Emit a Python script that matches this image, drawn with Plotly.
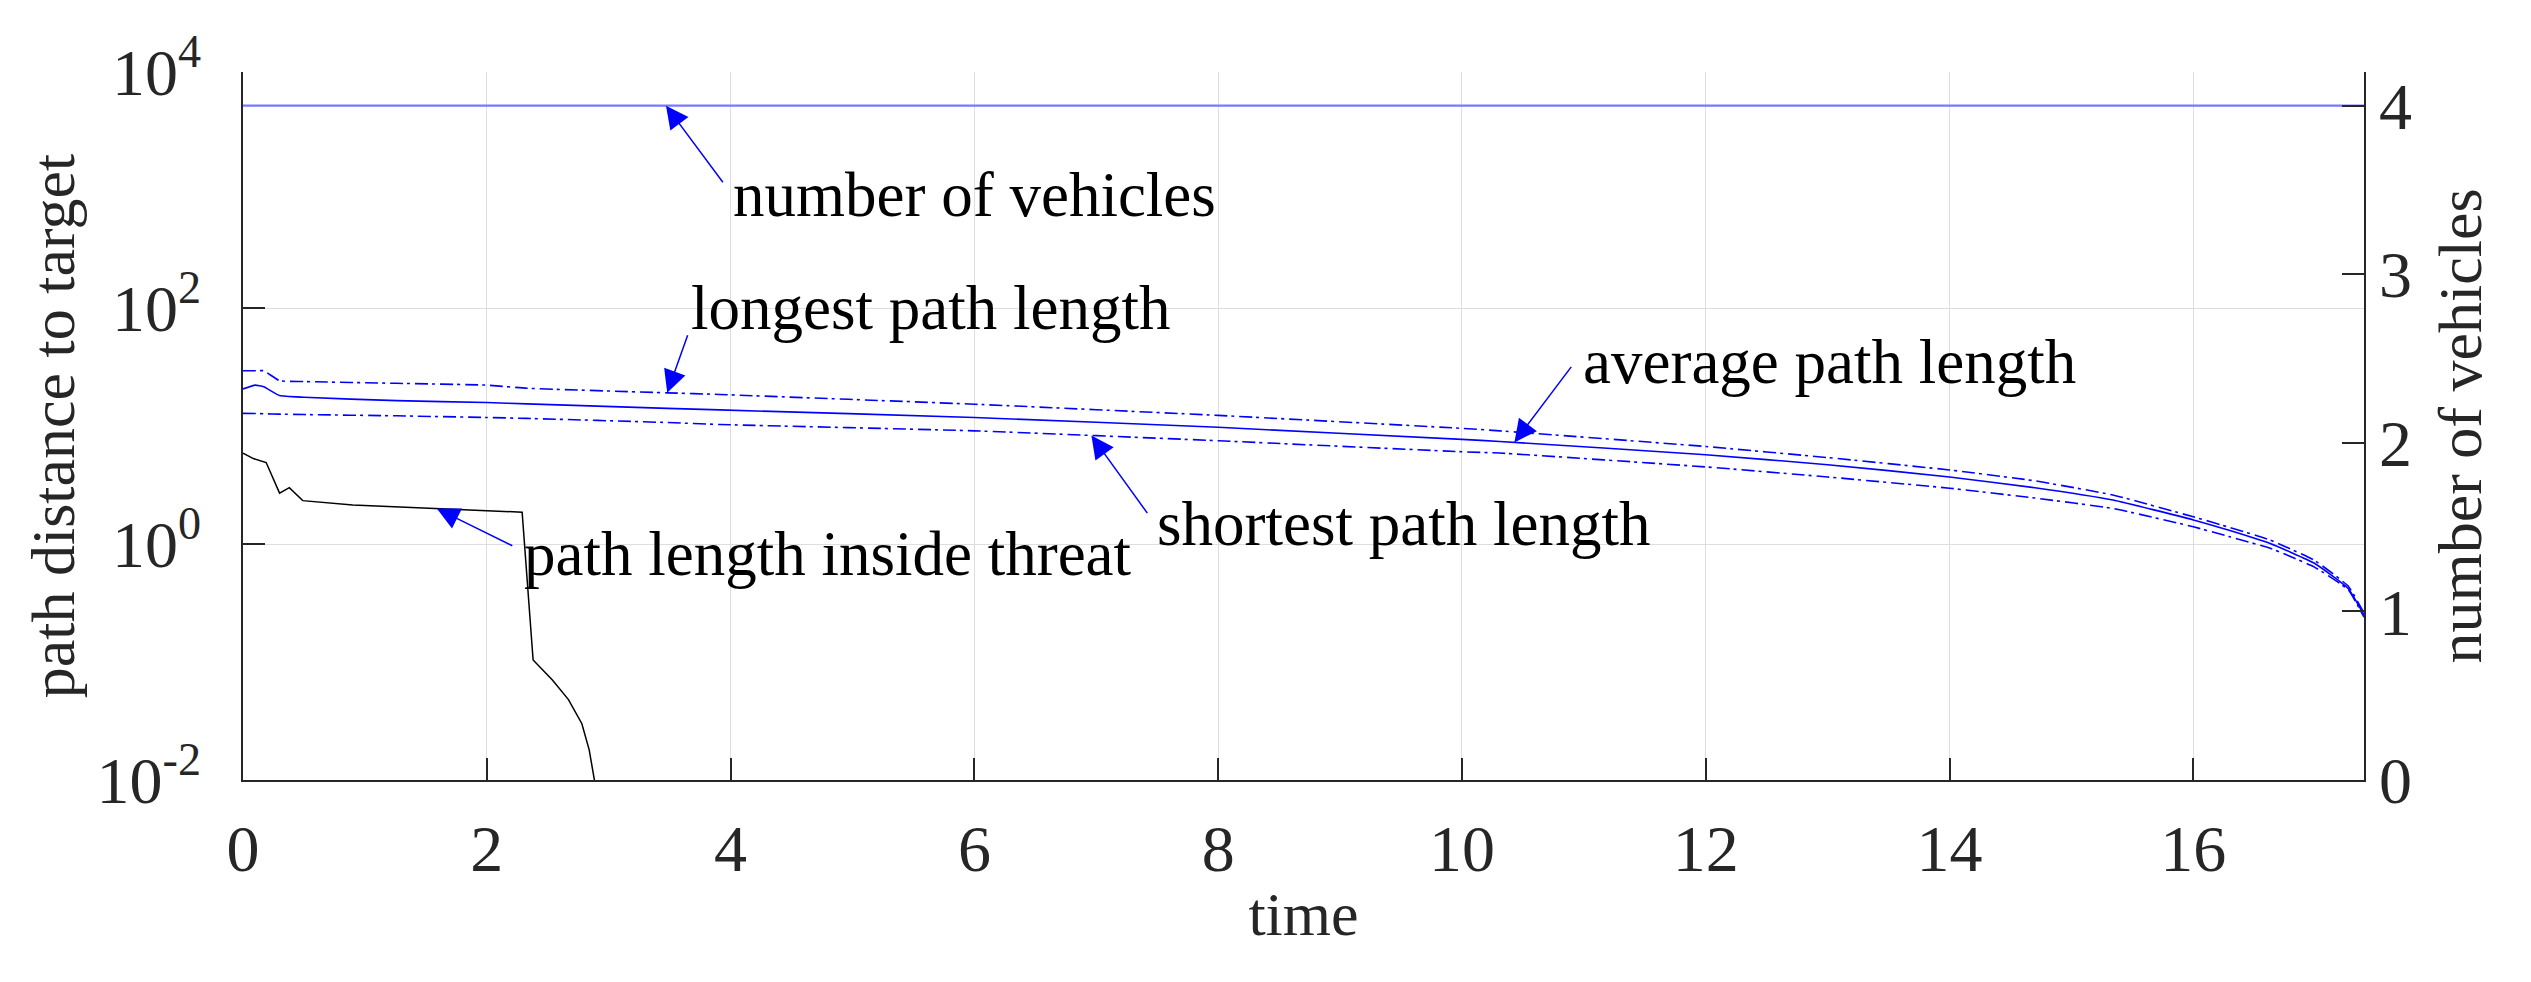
import numpy as np
import plotly.graph_objects as go

# ---------------- data ----------------
time_path = [0, 0.1, 0.17, 0.3, 0.5, 1.26, 2.0, 2.33, 3.48, 3.91, 6, 8, 10, 10.31,
             12, 13, 14, 14.7, 15.34, 16, 16.3, 16.63, 16.99, 17.27, 17.4]
longest_len = [29.4, 29.4, 29.4, 24.2, 23.8, 23.0, 22.2, 20.9, 19.1, 18.5, 15.3, 12.3, 9.55, 9.1,
               6.7, 5.4, 4.24, 3.43, 2.6, 1.7, 1.38, 1.08, 0.73, 0.44, 0.26]
average_len = [20.6, 22.2, 21.5, 18.1, 17.5, 16.4, 15.8, 15.4, 14.1, 13.7, 11.8, 9.75, 7.7, 7.4,
               5.7, 4.7, 3.7, 3.0, 2.36, 1.6, 1.3, 1.01, 0.69, 0.42, 0.25]
shortest_len = [12.8, 12.75, 12.7, 12.6, 12.5, 12.2, 11.8, 11.6, 10.7, 10.3, 9.1, 7.5, 6.05, 5.9,
                4.5, 3.7, 2.97, 2.45, 2.0, 1.4, 1.15, 0.92, 0.64, 0.41, 0.24]

time_threat = [0, 0.085, 0.19, 0.30, 0.38, 0.49, 0.90, 1.58, 2.29, 2.38, 2.54, 2.67, 2.78, 2.84, 2.88, 2.92]
threat_len = [5.9, 5.3, 4.9, 2.7, 3.0, 2.33, 2.14, 2.0, 1.86, 0.104, 0.070, 0.048, 0.030, 0.018, 0.010, 0.006]

time_vehicles = [0, 17.4]
num_vehicles = [4, 4]

x_ticks = [0, 2, 4, 6, 8, 10, 12, 14, 16]
y_ticks = [0.01, 1, 100, 10000]
y_ticktext = ["10<sup>-2</sup>", "10<sup>0</sup>", "10<sup>2</sup>", "10<sup>4</sup>"]
y2_ticks = [0, 1, 2, 3, 4]

# annotation anchors (time where arrow head touches)
ann_vehicles_t = 3.47
ann_longest_t = 3.48
ann_average_t = 10.43
ann_shortest_t = 6.96
ann_threat_t = 1.59

FONT = "Liberation Serif"
BLUE = "rgb(0,0,255)"
AX = "#262626"
GRID = "#dedede"

fig = go.Figure()
fig.add_trace(go.Scatter(x=time_vehicles, y=num_vehicles, yaxis="y2", mode="lines",
                         line=dict(color="rgb(120,120,255)", width=2.2), showlegend=False))
fig.add_trace(go.Scatter(x=time_path, y=longest_len, mode="lines",
                         line=dict(color=BLUE, width=1.6, dash="13px,4px,3px,5px", shape="spline", smoothing=0.4),
                         showlegend=False))
fig.add_trace(go.Scatter(x=time_path, y=average_len, mode="lines",
                         line=dict(color=BLUE, width=1.6, shape="spline", smoothing=0.4), showlegend=False))
fig.add_trace(go.Scatter(x=time_path, y=shortest_len, mode="lines",
                         line=dict(color=BLUE, width=1.6, dash="13px,4px,3px,5px", shape="spline", smoothing=0.4),
                         showlegend=False))
fig.add_trace(go.Scatter(x=time_threat, y=threat_len, mode="lines",
                         line=dict(color="black", width=1.5), showlegend=False))


def logi(t, xs, ys):
    return float(np.interp(t, xs, np.log10(ys)))


arrow_common = dict(showarrow=True, arrowhead=2, arrowsize=3, arrowwidth=1.5,
                    arrowcolor=BLUE, text="", standoff=0)
text_common = dict(showarrow=False, xanchor="left", yanchor="middle",
                   font=dict(family=FONT, size=63, color="black"), yref="y2", xref="x")

anns = [
    dict(x=ann_vehicles_t, y=4, xref="x", yref="y2", ax=58, ay=78, **arrow_common),
    dict(x=ann_longest_t, y=logi(ann_longest_t, time_path, longest_len), xref="x", yref="y",
         ax=21, ay=-59, **arrow_common),
    dict(x=ann_average_t, y=logi(ann_average_t, time_path, average_len), xref="x", yref="y",
         ax=58, ay=-77, **arrow_common),
    dict(x=ann_shortest_t, y=logi(ann_shortest_t, time_path, shortest_len), xref="x", yref="y",
         ax=57, ay=79, **arrow_common),
    dict(x=ann_threat_t, y=logi(ann_threat_t, time_threat, threat_len), xref="x", yref="y",
         ax=77, ay=38, **arrow_common),
    dict(text="number of vehicles", x=4.0, y=3.47, **text_common),
    dict(text="longest path length", x=3.66, y=2.80, **text_common),
    dict(text="average path length", x=10.98, y=2.48, **text_common),
    dict(text="shortest path length", x=7.48, y=1.52, **text_common),
    dict(text="path length inside threat", x=2.29, y=1.34, **text_common),
]

tickfont = dict(family=FONT, size=66, color=AX)
titlefont = dict(family=FONT, size=62, color=AX)

# margins compensate for the 8px default page body margin
fig.update_layout(
    width=2531, height=982,
    margin=dict(l=235, r=175, t=64, b=210),
    paper_bgcolor="white", plot_bgcolor="white",
    annotations=anns,
    xaxis=dict(range=[0, 17.4], tickvals=x_ticks, ticks="inside", ticklen=22, tickwidth=1.5,
               tickcolor=AX, showline=True, linecolor=AX, linewidth=1.5, mirror=False,
               showgrid=True, gridcolor=GRID, gridwidth=1.2, zeroline=False,
               tickfont=tickfont, ticklabelstandoff=10,
               title=dict(text="time", font=titlefont, standoff=8)),
    yaxis=dict(type="log", range=[-2, 4], tickvals=y_ticks, ticktext=y_ticktext,
               ticks="inside", ticklen=22, tickwidth=1.5, tickcolor=AX,
               showline=True, linecolor=AX, linewidth=1.5, showgrid=True, gridcolor=GRID,
               gridwidth=1.2, zeroline=False, tickfont=tickfont, ticklabelstandoff=27,
               title=dict(text="path distance to target", font=titlefont, standoff=2)),
    yaxis2=dict(overlaying="y", side="right", range=[0, 4.2], tickvals=y2_ticks,
                ticks="inside", ticklen=22, tickwidth=1.5, tickcolor=AX,
                showline=True, linecolor=AX, linewidth=1.5, showgrid=False, zeroline=False,
                tickfont=tickfont, ticklabelstandoff=0,
                title=dict(text="number of vehicles", font=titlefont, standoff=27)),
)

fig.write_html("out.html")
